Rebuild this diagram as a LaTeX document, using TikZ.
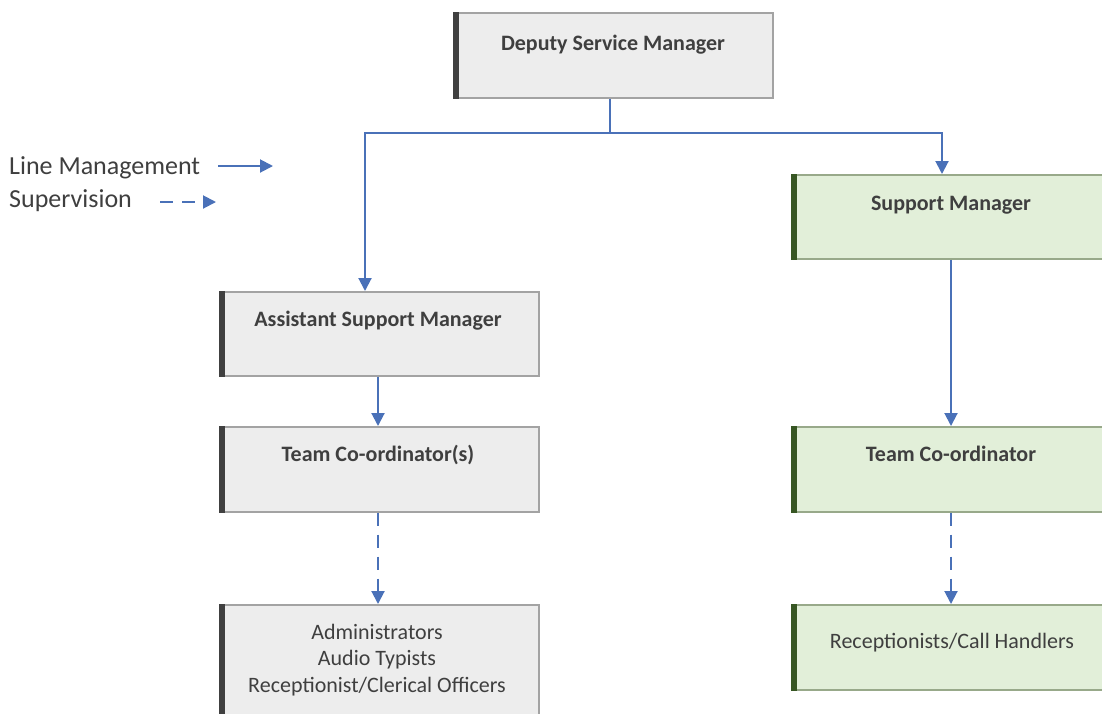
\documentclass[tikz,border=0pt]{standalone}
\usepackage{fontspec}
\setmainfont{Carlito}
\usetikzlibrary{arrows.meta,calc}
\definecolor{grayfill}{HTML}{EDEDED}
\definecolor{grayedge}{HTML}{A3A3A3}
\definecolor{graybar}{HTML}{404040}
\definecolor{greenfill}{HTML}{E2EFD9}
\definecolor{greenedge}{HTML}{98A98A}
\definecolor{greenbar}{HTML}{375623}
\definecolor{arrowblue}{HTML}{4A71B8}
\definecolor{txt}{HTML}{3F3F3F}
\tikzset{
  box/.style={rectangle, inner sep=0pt, anchor=north west, line width=1.6pt},
  graybox/.style={box, draw=grayedge, fill=grayfill},
  greenbox/.style={box, draw=greenedge, fill=greenfill},
  gbar/.style={draw=graybar, line width=6pt},
  grbar/.style={draw=greenbar, line width=6pt},
  title/.style={anchor=base, inner sep=0pt, text=txt, font=\fontsize{22}{26}\selectfont\bfseries},
  plain/.style={anchor=base, inner sep=0pt, text=txt, font=\fontsize{22}{26.5}\selectfont, align=center},
  legendtext/.style={anchor=base west, inner sep=0pt, text=txt, font=\fontsize{26}{30}\selectfont},
  conn/.style={draw=arrowblue, line width=2pt},
  arr/.style={conn, -{Triangle[length=13pt,width=13pt]}},
  darr/.style={arr, dash pattern=on 13pt off 9pt},
}
\begin{document}
\begin{tikzpicture}[x=1pt,y=-1pt]
\useasboundingbox (0,0) rectangle (1102,713);
\clip (0,0) rectangle (1102,713);

% boxes
\node[graybox, minimum width=319pt, minimum height=85pt] (dsm) at (453,12) {};
\node[greenbox, minimum width=330pt, minimum height=84pt] (sm) at (791,174) {};
\node[graybox, minimum width=319pt, minimum height=84pt] (asm) at (219,291) {};
\node[graybox, minimum width=319pt, minimum height=85pt] (tcl) at (219,426) {};
\node[greenbox, minimum width=330pt, minimum height=85pt] (tcr) at (791,426) {};
\node[graybox, minimum width=319pt, minimum height=130pt] (adm) at (219,604) {};
\node[greenbox, minimum width=330pt, minimum height=85pt] (rec) at (791,604) {};

% left bars
\foreach \n in {dsm,asm,tcl,adm}
  \draw[gbar] ([xshift=3pt]\n.north west) -- ([xshift=3pt]\n.south west);
\foreach \n in {sm,tcr,rec}
  \draw[grbar] ([xshift=3pt]\n.north west) -- ([xshift=3pt]\n.south west);

% texts
\node[title] (dsmt) at (613,50) {Deputy Service Manager};
\node[title] (smt) at (951,210) {Support Manager};
\node[title] (asmt) at (378,326) {Assistant Support Manager};
\node[title] (tclt) at (378,461) {Team Co-ordinator(s)};
\node[title] (tcrt) at (951,461) {Team Co-ordinator};
\node[plain] (admt) at (377,692) {Administrators\\Audio Typists\\Receptionist/Clerical Officers};
\node[plain] (rect) at (952,648) {Receptionists/Call Handlers};

% legend
\node[legendtext] (lm) at (9,174) {Line Management};
\node[legendtext] (sv) at (9,207) {Supervision};
\coordinate (lma) at (218,166);
\coordinate (lmb) at (273,166);
\coordinate (sva) at (160,202);
\coordinate (svb) at (216,202);
\draw[arr] (lma) -- (lmb);
\draw[darr] (sva) -- (svb);

% connectors
\coordinate (jm) at (610,133);
\coordinate (jl) at (365,133);
\coordinate (jr) at (942,133);
\draw[conn] (dsm.south -| jm) -- (jm);
\draw[arr] (jm) -- (jl) -- (jl |- asm.north);
\draw[arr] (jm) -- (jr) -- (jr |- sm.north);
\draw[arr] (asm.south -| tclt) -- (tcl.north -| tclt);
\draw[arr] (sm.south -| tcrt) -- (tcr.north -| tcrt);
\draw[darr] (tcl.south -| tclt) -- (adm.north -| tclt);
\draw[darr] (tcr.south -| tcrt) -- (rec.north -| tcrt);
\end{tikzpicture}
\end{document}
